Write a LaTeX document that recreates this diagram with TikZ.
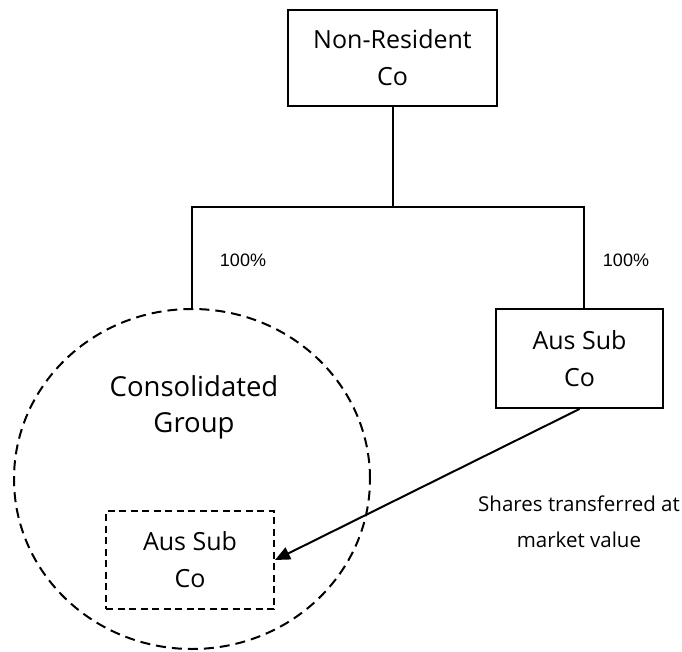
\documentclass[tikz,border=0pt]{standalone}
\usepackage{fontspec}
\setmainfont{Open Sans}
\usetikzlibrary{shapes.geometric,arrows.meta}
\begin{document}
\begin{tikzpicture}[x=1pt,y=-1pt,
  line width=2pt,
  solidbox/.style={draw,rectangle,inner sep=0pt,align=center,
    font=\fontsize{25}{37}\selectfont},
  dashbox/.style={draw,rectangle,inner sep=0pt,align=center,
    dash pattern=on 7pt off 4.5pt,
    font=\fontsize{25}{37}\selectfont},
  grpshape/.style={draw,ellipse,inner sep=0pt,dash pattern=on 10pt off 6pt},
  pct/.style={font=\fontspec{Liberation Sans}\fontsize{18}{22}\selectfont},
  lbl/.style={align=center,font=\fontsize{20.5}{36}\selectfont},
  conn/.style={line width=2pt},
]
\useasboundingbox (0,0) rectangle (682,652);
\node[solidbox,minimum width=209pt,minimum height=96pt] (top) at (392.5,58) {Non-Resident\\Co};
\node[solidbox,minimum width=167pt,minimum height=99pt] (rbox) at (579.5,358.5) {Aus Sub\\Co};
\node[grpshape,minimum width=356pt,minimum height=340pt] (grp) at (192,479) {};
\node[align=center,font=\fontsize{27.5}{36}\selectfont] (cg) at (194,407) {Consolidated\\Group};
\node[dashbox,minimum width=168pt,minimum height=98pt] (dbox) at (190,560) {Aus Sub\\Co};
\node[pct] (p1) at (243,260) {100\%};
\node[pct] (p2) at (626,260) {100\%};
\node[lbl] (sh) at (579,522) {Shares transferred at\\market value};
\coordinate (j) at (392.5,207);
\draw[conn] (top.south) -- (j);
\draw[conn] (grp.north) |- (j) -| ([xshift=4.5pt]rbox.north);
\draw[conn,-{Triangle[length=15pt,width=13pt]}] (rbox.south) -- (dbox.east);
\end{tikzpicture}
\end{document}
